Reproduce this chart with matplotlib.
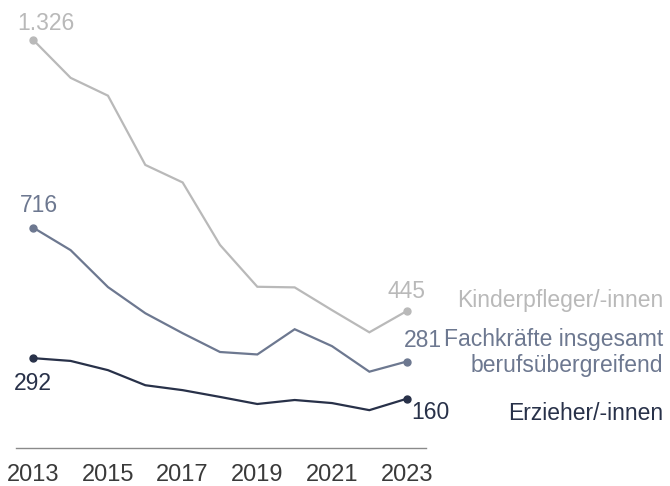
import matplotlib.pyplot as plt

plt.rcParams['font.family'] = ['Liberation Sans', 'DejaVu Sans']

years = list(range(2013, 2024))
kinderpfleger = [1326, 1203, 1145, 920, 863, 660, 524, 522, 448, 376, 445]
fachkraefte = [716, 643, 523, 438, 373, 312, 304, 386, 331, 248, 281]
erzieher = [292, 283, 253, 204, 188, 166, 143, 156, 146, 123, 160]
tick_years = [2013, 2015, 2017, 2019, 2021, 2023]

c_kinder = '#b9b9b9'
c_fach = '#6d7890'
c_erz = '#283149'

W, H = 670, 486
fig = plt.figure(figsize=(W / 100, H / 100), dpi=100)
ax = fig.add_axes([16 / W, 1 - 448 / H, 410 / W, 428 / H])

for vals, c in [(kinderpfleger, c_kinder), (fachkraefte, c_fach), (erzieher, c_erz)]:
    ax.plot(years, vals, color=c, lw=1.6, solid_joinstyle='miter')
    ax.plot([years[0], years[-1]], [vals[0], vals[-1]], 'o', color=c, ms=5)

ax.set_xlim(2012.537, 2023.517)
ax.set_ylim(0, 1391)
for s in ['top', 'right', 'left']:
    ax.spines[s].set_visible(False)
ax.spines['bottom'].set_color('#8a8a8a')
ax.spines['bottom'].set_linewidth(1.0)
ax.set_yticks([])
ax.set_xticks(tick_years)
ax.set_xticklabels([str(y) for y in tick_years])
ax.tick_params(axis='x', length=0, pad=11.5, labelsize=17, labelcolor='#3a3a3a')

fs = 16.5
def label(txt, x, y, dx, dy, ha, c):
    ax.annotate(txt, (x, y), xytext=(dx, dy), textcoords='offset points',
                ha=ha, va='baseline', fontsize=fs, color=c)

label('1.326', years[0], kinderpfleger[0], -11.7, 7.2, 'left', c_kinder)
label('716', years[0], fachkraefte[0], -9.6, 11.3, 'left', c_fach)
label('292', years[0], erzieher[0], 0, -22.8, 'center', c_erz)
label('445', years[-1], kinderpfleger[-1], 0, 9.4, 'center', c_kinder)
label('281', years[-1], fachkraefte[-1], -2, 10.6, 'left', c_fach)
label('160', years[-1], erzieher[-1], 3.6, -14.4, 'left', c_erz)

lfs = 16.5
x_right = 663 / W
fig.text(x_right, 1 - 306.7 / H, 'Kinderpfleger/-innen', ha='right', va='baseline', fontsize=lfs, color=c_kinder)
fig.text(x_right, 1 - 346 / H, 'Fachkräfte insgesamt', ha='right', va='baseline', fontsize=lfs, color=c_fach)
fig.text(x_right, 1 - 371.7 / H, 'berufsübergreifend', ha='right', va='baseline', fontsize=lfs, color=c_fach)
fig.text(x_right, 1 - 420 / H, 'Erzieher/-innen', ha='right', va='baseline', fontsize=lfs, color=c_erz)

fig.savefig('out.png', dpi=100)
